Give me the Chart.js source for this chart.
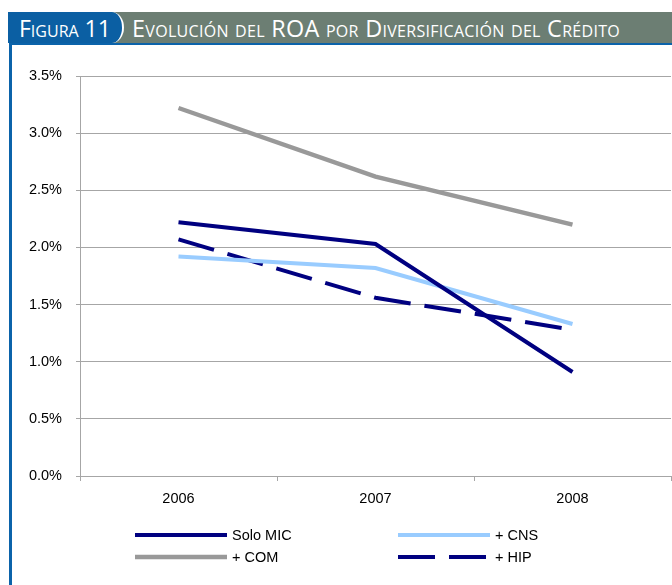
<!DOCTYPE html>
<html>
<head>
<meta charset="utf-8">
<script src="https://cdn.jsdelivr.net/npm/chart.js@4.4.1/dist/chart.umd.min.js"></script>
<style>
  html, body { margin: 0; padding: 0; background: #fff; }
  body { width: 672px; height: 585px; position: relative; overflow: hidden; }
  #band { position: absolute; left: 8px; top: 12px; width: 664px; height: 31px; background: #6c7e73; }
  #fig { position: absolute; left: 8px; top: 12px; width: 114px; height: 31px; background: #0b5fa3;
         border-right: 2px solid #fff; border-radius: 0 12px 12px 0 / 0 50% 50% 0; }
  .htxt { position: absolute; top: 12px; height: 31px; line-height: 33px; color: #fff;
          font-family: "Open Sans", sans-serif; font-variant: small-caps; white-space: nowrap; }
  #figtxt { left: 19px; font-size: 23px; }
  #title { left: 132px; font-size: 23.4px; letter-spacing: 0.3px; }
  #frame { position: absolute; left: 9px; top: 43px; width: 663px; height: 542px;
           border-top: 2px solid #0b63aa; border-left: 3px solid #0b63aa; box-sizing: border-box; }
  #wrap { position: absolute; left: 0; top: 50px; width: 672px; height: 535px; }
</style>
</head>
<body>
<div id="band"></div>
<div id="fig"></div>
<div class="htxt" id="figtxt">Figura 11</div>
<div class="htxt" id="title">Evolución del ROA por Diversificación del Crédito</div>
<div id="frame"></div>
<div id="wrap"><canvas id="chart"></canvas></div>
<script>
const years = ["2006", "2007", "2008"];
const soloMic = [2.22, 2.03, 0.91];
const plusCns = [1.92, 1.82, 1.33];
const plusCom = [3.22, 2.62, 2.20];
const plusHip = [2.07, 1.56, 1.28];
const yMax = 3.5;
const yStep = 0.5;

const legendLines = {
    id: "legendLines",
    afterDraw(chart)
    {
        const ctx = chart.ctx;
        const cols = [135, 398];
        const rows = [485, 507];
        chart.data.datasets.forEach((ds, i) =>
        {
            const x = cols[i % 2];
            const y = rows[Math.floor(i / 2)];
            ctx.save();
            ctx.strokeStyle = ds.borderColor;
            ctx.lineWidth = ds.borderWidth;
            ctx.setLineDash(ds.borderDash || []);
            ctx.beginPath();
            ctx.moveTo(x, y);
            ctx.lineTo(x + 92, y);
            ctx.stroke();
            ctx.setLineDash([]);
            ctx.fillStyle = "#000";
            ctx.font = "14.5px 'Liberation Sans', Arial, sans-serif";
            ctx.textBaseline = "middle";
            ctx.fillText(ds.label, x + 97, y + 1);
            ctx.restore();
        });
    }
};

const ctx = document.getElementById("chart").getContext("2d");
const myChart = new Chart(ctx,
{
    type: "line",
    data:
    {
        labels: years,
        datasets:
        [
            { label: "Solo MIC", data: soloMic, borderColor: "#000080", borderWidth: 4 },
            { label: "+ CNS", data: plusCns, borderColor: "#99ccff", borderWidth: 4 },
            { label: "+ COM", data: plusCom, borderColor: "#999999", borderWidth: 4.5 },
            { label: "+ HIP", data: plusHip, borderColor: "#000080", borderWidth: 4, borderDash: [37, 14] }
        ]
    },
    options:
    {
        responsive: true,
        maintainAspectRatio: false,
        animation: false,
        layout: { padding: { top: 26, right: 1, left: 0, bottom: 0 } },
        elements: { point: { radius: 0 }, line: { tension: 0 } },
        plugins: { legend: { display: false }, tooltip: { enabled: false } },
        scales:
        {
            x:
            {
                offset: true,
                grid: { offset: true, drawOnChartArea: false, drawTicks: true, tickLength: 5, color: "#a6a6a6" },
                border: { color: "#a6a6a6" },
                ticks: { color: "#000", padding: 9, font: { family: "'Liberation Sans', Arial, sans-serif", size: 14.5 } },
                afterFit: s => { s.height = 109; }
            },
            y:
            {
                min: 0,
                max: yMax,
                grid: { color: "#a6a6a6", tickLength: 4 },
                border: { color: "#a6a6a6" },
                ticks:
                {
                    stepSize: yStep,
                    color: "#000",
                    padding: 14,
                    font: { family: "'Liberation Sans', Arial, sans-serif", size: 14.5 },
                    callback: v => v.toFixed(1) + "%"
                },
                afterFit: s => { s.width = 80; }
            }
        }
    },
    plugins: [legendLines]
});
</script>
</body>
</html>
